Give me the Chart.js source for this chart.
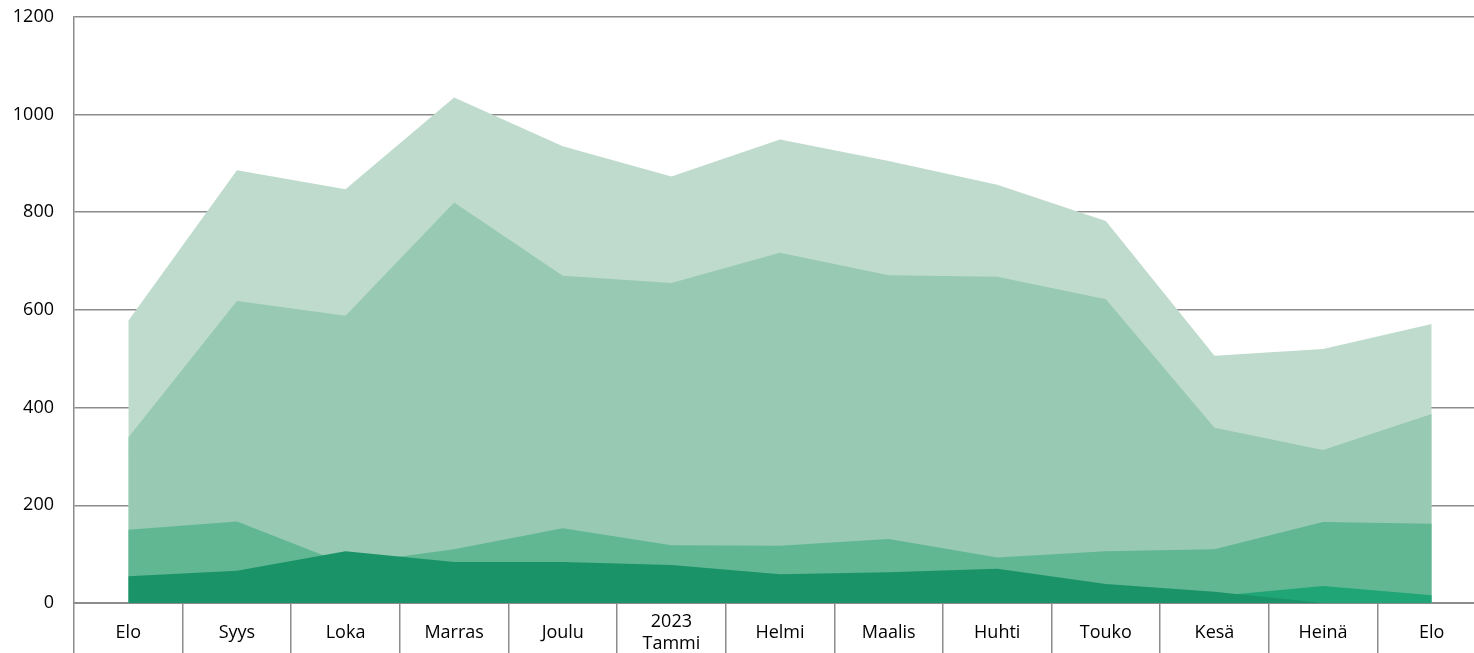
<!DOCTYPE html>
<html>
<head>
<meta charset="utf-8">
<script src="https://cdn.jsdelivr.net/npm/chart.js@4"></script>
<style>
  html, body { margin: 0; padding: 0; background: #fff; overflow: hidden; }
  #wrap { width: 1490px; height: 684px; margin-top: -14px; }
</style>
</head>
<body>
<div id="wrap"><canvas id="myChart"></canvas></div>
<script>
const months = ['Elo', 'Syys', 'Loka', 'Marras', 'Joulu', ['2023', 'Tammi'], 'Helmi', 'Maalis', 'Huhti', 'Touko', 'Kesä', 'Heinä', 'Elo'];

const lightValues  = [578, 886, 847, 1035, 935, 873, 949, 905, 856, 782, 506, 520, 571];
const midValues    = [339, 618, 588, 820, 670, 655, 717, 671, 668, 622, 359, 313, 387];
const mediumValues = [150, 167, 80, 110, 153, 118, 117, 131, 93, 106, 110, 166, 162];
const brightValues = [0, 0, 0, 0, 0, 0, 0, 0, 0, 0, 14, 35, 16];
const darkValues   = [55, 66, 106, 84, 84, 78, 59, 63, 70, 39, 23, 0, 0];

const yTicks = [0, 200, 400, 600, 800, 1000, 1200];

document.addEventListener("DOMContentLoaded", function () {
    const ctx = document.getElementById('myChart').getContext('2d');
    const gridColor = '#8c8c8c';

    function area(values, color) {
        return {
            data: values,
            backgroundColor: color,
            borderWidth: 0,
            pointRadius: 0,
            tension: 0,
            fill: 'origin'
        };
    }

    // first dataset ends up on top
    const data = {
        labels: months,
        datasets: [
            area(darkValues, 'rgb(27, 147, 105)'),
            area(brightValues, 'rgb(31, 165, 118)'),
            area(mediumValues, 'rgb(96, 183, 146)'),
            area(midValues, 'rgb(151, 201, 179)'),
            area(lightValues, 'rgb(191, 219, 205)')
        ]
    };

    new Chart(ctx, {
        type: 'line',
        data: data,
        options: {
            responsive: true,
            maintainAspectRatio: false,
            animation: false,
            layout: { padding: { top: 2, right: 4, left: 0, bottom: 0 } },
            plugins: {
                legend: { display: false },
                tooltip: { enabled: false }
            },
            scales: {
                x: {
                    offset: true,
                    afterFit: function (scale) { scale.height = 67; },
                    grid: {
                        offset: true,
                        drawOnChartArea: false,
                        tickLength: 67,
                        color: gridColor,
                        lineWidth: 1.5
                    },
                    border: { color: gridColor, width: 2 },
                    ticks: {
                        color: '#000',
                        font: { family: 'Open Sans', size: 18 },
                        maxRotation: 0,
                        autoSkip: false,
                        crossAlign: 'center',
                        padding: -48
                    }
                },
                y: {
                    min: 0,
                    max: 1200,
                    afterFit: function (scale) { scale.width = 74; },
                    afterBuildTicks: function (scale) {
                        scale.ticks = yTicks.map(v => ({ value: v }));
                    },
                    grid: {
                        drawTicks: false,
                        color: gridColor,
                        lineWidth: 1.5
                    },
                    border: { color: gridColor, width: 1.5 },
                    ticks: {
                        color: '#000',
                        font: { family: 'Open Sans', size: 18 },
                        padding: 20,
                        callback: function (value) { return String(value); }
                    }
                }
            }
        }
    });
});
</script>
</body>
</html>
